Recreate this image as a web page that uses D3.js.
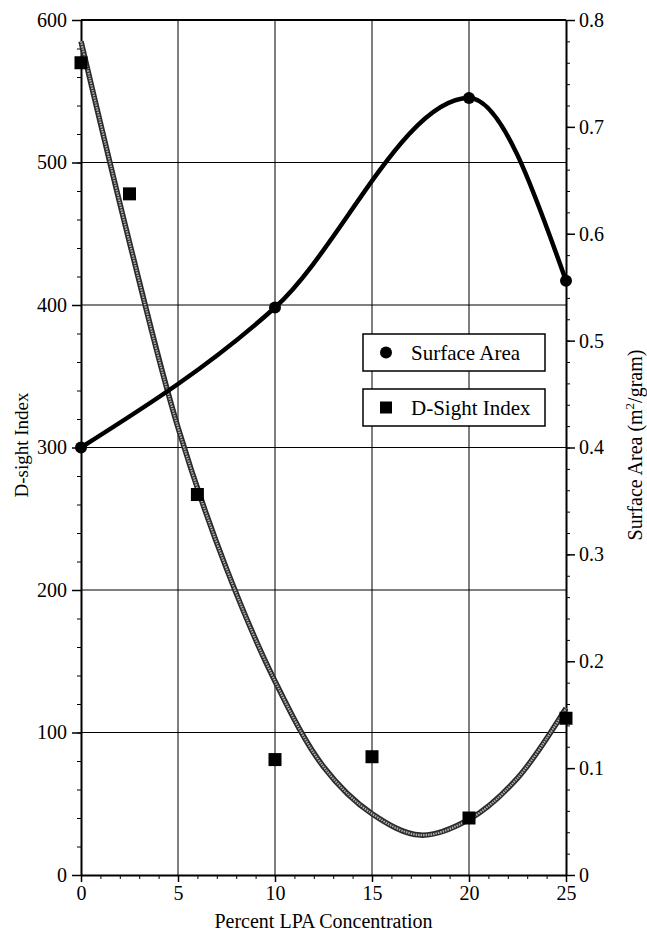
<!DOCTYPE html>
<html>
<head>
<meta charset="utf-8">
<script src="https://cdn.jsdelivr.net/npm/d3@7"></script>
<style>
  html, body { margin: 0; padding: 0; background: #fff; }
  svg { display: block; }
  svg text { font-family: "Liberation Serif", "DejaVu Serif", serif !important; fill: #000; }
</style>
</head>
<body>
<svg id="chart" width="647" height="932"></svg>
<script>
// LPA concentration (%) with measured values
const concSurface = [0, 10, 20, 25];
const surfaceArea = [0.40, 0.531, 0.727, 0.556];          // m²/gram

const concDSight = [0, 2.5, 6, 10, 15, 20, 25];
const dSightIndex = [570, 478, 267, 81, 83, 40, 110];

// Fitted trend for D-sight index
const fitConc = [0, 2.5, 5, 7.5, 10, 12.5, 15, 17.5, 20, 22.5, 25];
const fitDSight = [585, 444, 314, 215, 136, 76, 43, 28, 39, 68, 117];

const xTicks = [0, 5, 10, 15, 20, 25];
const yLeftTicks = [0, 100, 200, 300, 400, 500, 600];
const yRightTicks = [0, 0.1, 0.2, 0.3, 0.4, 0.5, 0.6, 0.7, 0.8];

const legendLabels = ["Surface Area", "D-Sight Index"];

const serif = "'Liberation Serif', 'DejaVu Serif', serif";
const svg = d3.select("#chart").attr("font-family", serif);
const m = { left: 81, top: 20, right: 81, bottom: 57 };
const W = 647 - m.left - m.right;
const H = 932 - m.top - m.bottom;

const x = d3.scaleLinear().domain([0, 25]).range([0, W]);
const yL = d3.scaleLinear().domain([0, 600]).range([H, 0]);
const yR = d3.scaleLinear().domain([0, 0.8]).range([H, 0]);

const g = svg.append("g").attr("transform", `translate(${m.left},${m.top})`);

// grid
g.append("g").selectAll("line").data(xTicks.slice(1, -1)).join("line")
  .attr("x1", d => x(d)).attr("x2", d => x(d)).attr("y1", 0).attr("y2", H)
  .attr("stroke", "#000").attr("stroke-width", 1);
g.append("g").selectAll("line").data(yLeftTicks.slice(1, -1)).join("line")
  .attr("y1", d => yL(d)).attr("y2", d => yL(d)).attr("x1", 0).attr("x2", W)
  .attr("stroke", "#000").attr("stroke-width", 1);

// axes
const fontSize = 20;
function styleAxis(sel) {
  sel.attr("font-family", serif);
  sel.select(".domain").attr("stroke-width", 2);
  sel.selectAll(".tick line").attr("stroke-width", 1.5);
  sel.selectAll("text").attr("font-size", fontSize).style("font-family", serif);
}

// minor ticks
g.append("g").attr("transform", `translate(0,${H})`)
  .call(d3.axisBottom(x).ticks(25).tickSize(4).tickFormat(""))
  .call(s => s.select(".domain").remove());
g.append("g").call(d3.axisLeft(yL).ticks(30).tickSize(4).tickFormat(""))
  .call(s => s.select(".domain").remove());
g.append("g").attr("transform", `translate(${W},0)`)
  .call(d3.axisRight(yR).ticks(40).tickSize(4).tickFormat(""))
  .call(s => s.select(".domain").remove());

g.append("g").attr("transform", `translate(0,${H})`)
  .call(d3.axisBottom(x).tickValues(xTicks).tickSize(7).tickSizeOuter(0).tickPadding(4))
  .call(styleAxis);
g.append("g")
  .call(d3.axisLeft(yL).tickValues(yLeftTicks).tickSize(9).tickSizeOuter(0).tickPadding(5))
  .call(styleAxis);
g.append("g").attr("transform", `translate(${W},0)`)
  .call(d3.axisRight(yR).tickValues(yRightTicks).tickSize(9).tickSizeOuter(0).tickPadding(4)
        .tickFormat(d => d === 0 ? "0" : d3.format(".1f")(d)))
  .call(styleAxis);
// top frame
g.append("line").attr("x1", 0).attr("x2", W).attr("y1", 0).attr("y2", 0)
  .attr("stroke", "#000").attr("stroke-width", 2);

// D-sight fitted curve (hatched grey band)
const fitPts = fitConc.map((c, i) => [c, fitDSight[i]]);
const fitLine = d3.line().x(d => x(d[0])).y(d => yL(d[1])).curve(d3.curveCatmullRom.alpha(0.5));
g.append("path").attr("d", fitLine(fitPts)).attr("fill", "none")
  .attr("stroke", "#2a2a2a").attr("stroke-width", 5.5);
g.append("path").attr("d", fitLine(fitPts)).attr("fill", "none")
  .attr("stroke", "#b0b0b0").attr("stroke-width", 2.2).attr("stroke-dasharray", "1.5,1");

// surface area curve
const saPts = concSurface.map((c, i) => [c, surfaceArea[i]]);
g.append("path")
  .attr("d", d3.line().x(d => x(d[0])).y(d => yR(d[1])).curve(d3.curveMonotoneX)(saPts))
  .attr("fill", "none").attr("stroke", "#000").attr("stroke-width", 4.5).attr("stroke-linejoin", "round");

// markers
g.append("g").selectAll("circle").data(saPts).join("circle")
  .attr("cx", d => x(d[0])).attr("cy", d => yR(d[1])).attr("r", 6).attr("fill", "#000");
const sq = 13;
g.append("g").selectAll("rect").data(concDSight.map((c, i) => [c, dSightIndex[i]])).join("rect")
  .attr("x", d => x(d[0]) - sq / 2).attr("y", d => yL(d[1]) - sq / 2)
  .attr("width", sq).attr("height", sq).attr("fill", "#000");

// legend
const lg = svg.append("g");
const boxX = 363, boxW = 182, boxH = 37;
const boxYs = [334, 389];
legendLabels.forEach((lab, i) => {
  const by = boxYs[i];
  lg.append("rect").attr("x", boxX).attr("y", by).attr("width", boxW).attr("height", boxH)
    .attr("fill", "#fff").attr("stroke", "#000").attr("stroke-width", 1.5);
  if (i === 0) {
    lg.append("circle").attr("cx", boxX + 23).attr("cy", by + boxH / 2).attr("r", 6).attr("fill", "#000");
  } else {
    lg.append("rect").attr("x", boxX + 17).attr("y", by + boxH / 2 - 6).attr("width", 12).attr("height", 12).attr("fill", "#000");
  }
  lg.append("text").attr("x", boxX + 48).attr("y", by + boxH / 2 + 7)
    .attr("font-size", 21).text(lab);
});

// axis titles
svg.append("text").attr("x", m.left + W / 2).attr("y", 928).attr("text-anchor", "middle")
  .attr("font-size", fontSize).text("Percent LPA Concentration");
svg.append("text").attr("transform", `translate(28,445) rotate(-90)`)
  .attr("text-anchor", "middle").attr("font-size", 19).text("D-sight Index");
const rt = svg.append("text").attr("transform", `translate(642,445) rotate(-90)`)
  .attr("text-anchor", "middle").attr("font-size", fontSize);
rt.append("tspan").text("Surface Area (m");
rt.append("tspan").attr("font-size", 13).attr("dy", -8).text("2");
rt.append("tspan").attr("dy", 8).text("/gram)");
</script>
</body>
</html>
